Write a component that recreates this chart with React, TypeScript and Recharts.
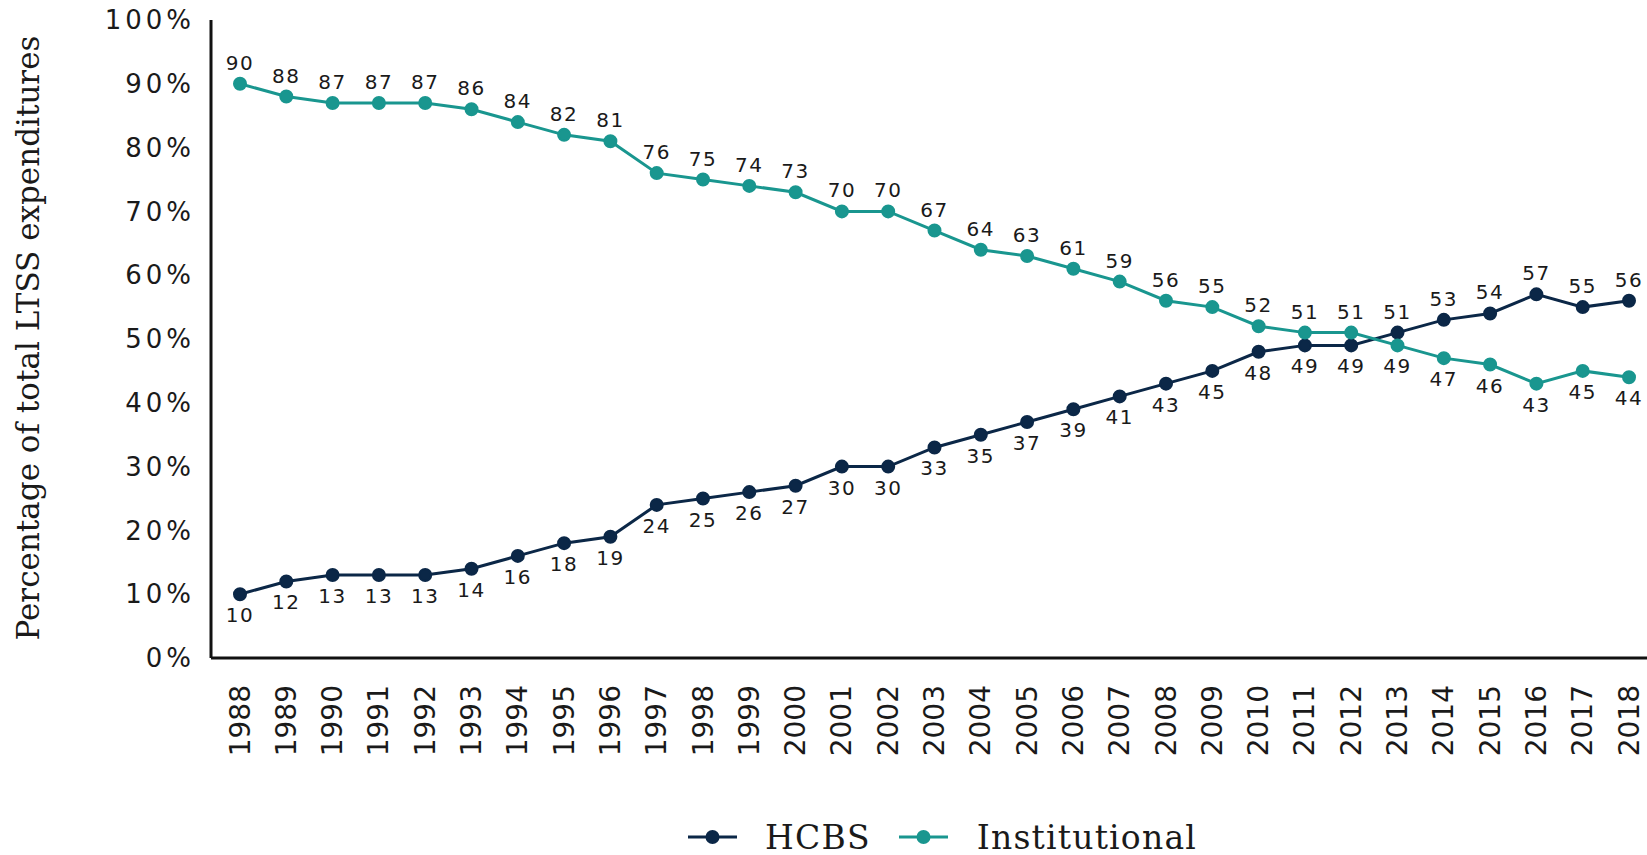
import { LineChart, Line, XAxis, YAxis, Legend, LabelList } from 'recharts';

const years = [
  '1988', '1989', '1990', '1991', '1992', '1993', '1994', '1995', '1996', '1997', '1998',
  '1999', '2000', '2001', '2002', '2003', '2004', '2005', '2006', '2007', '2008',
  '2009', '2010', '2011', '2012', '2013', '2014', '2015', '2016', '2017', '2018',
];
const hcbs = [10, 12, 13, 13, 13, 14, 16, 18, 19, 24, 25, 26, 27, 30, 30, 33, 35, 37, 39, 41, 43, 45, 48, 49, 49, 51, 53, 54, 57, 55, 56];
const institutional = [90, 88, 87, 87, 87, 86, 84, 82, 81, 76, 75, 74, 73, 70, 70, 67, 64, 63, 61, 59, 56, 55, 52, 51, 51, 49, 47, 46, 43, 45, 44];
const yTicks = [0, 10, 20, 30, 40, 50, 60, 70, 80, 90, 100];

const NAVY = '#0b2747';
const TEAL = '#19968f';
const TEXT = '#1a1a1a';

const data = years.map((year, i) => ({ year, hcbs: hcbs[i], institutional: institutional[i] }));

// label goes above the point when this series is the higher one
const makeLabel = (own: number[], other: number[]) => (props: any) => {
  const { x, y, value, index } = props;
  const above = own[index] >= other[index];
  return (
    <text
      x={x}
      y={above ? y - 21 : y + 21}
      textAnchor="middle"
      dominantBaseline="central"
      fontFamily="DejaVu Sans"
      fontSize={20}
      letterSpacing={1.5}
      fill={TEXT}
    >
      {value}
    </text>
  );
};

const YearTick = ({ x, y, payload }: any) => (
  <g transform={`translate(${x},${y})`}>
    <text
      transform="rotate(-90)"
      x={-19}
      y={0}
      textAnchor="end"
      dominantBaseline="central"
      fontFamily="DejaVu Sans"
      fontSize={28}
      fill={TEXT}
    >
      {payload.value}
    </text>
  </g>
);

const AxisTitle = () => (
  <text
    transform="translate(28,338) rotate(-90)"
    textAnchor="middle"
    dominantBaseline="central"
    fontFamily="DejaVu Serif"
    fontSize={31}
    fill={TEXT}
  >
    Percentage of total LTSS expenditures
  </text>
);

const LegendIcon = ({ color }: { color: string }) => (
  <svg width={49} height={16}>
    <line x1={0} y1={8} x2={49} y2={8} stroke={color} strokeWidth={3} />
    <circle cx={24.5} cy={8} r={7} fill={color} />
  </svg>
);

const renderLegend = () => (
  <div style={{ display: 'flex', alignItems: 'center', height: 30, fontFamily: 'DejaVu Serif', fontSize: 33, letterSpacing: 1.2, color: TEXT }}>
    <LegendIcon color={NAVY} />
    <span style={{ marginLeft: 28, marginRight: 28 }}>HCBS</span>
    <LegendIcon color={TEAL} />
    <span style={{ marginLeft: 29 }}>Institutional</span>
  </div>
);

export default function App() {
  return (
    <div style={{ position: 'absolute', left: 0, top: 0, background: '#fff' }}>
      <LineChart width={1647} height={855} data={data} margin={{ top: 20, right: 0, left: 0, bottom: 0 }}>
        <XAxis
          dataKey="year"
          interval={0}
          tickLine={false}
          axisLine={{ stroke: '#111', strokeWidth: 3 }}
          padding={{ left: 29, right: 18 }}
          height={164}
          tick={<YearTick />}
        />
        <YAxis
          domain={[0, 100]}
          ticks={yTicks}
          tickFormatter={(v) => `${v}%`}
          tickLine={false}
          tickSize={0}
          tickMargin={16}
          width={211}
          axisLine={{ stroke: '#111', strokeWidth: 3 }}
          tick={{ fontFamily: 'DejaVu Sans', fontSize: 26, letterSpacing: 4, fill: TEXT }}
          label={<AxisTitle />}
        />
        <Legend verticalAlign="bottom" height={33} wrapperStyle={{ left: 688, bottom: 0 }} content={renderLegend} />
        <Line
          dataKey="hcbs"
          name="HCBS"
          stroke={NAVY}
          strokeWidth={3}
          dot={{ r: 6, fill: NAVY, stroke: NAVY, strokeWidth: 2 }}
          isAnimationActive={false}
        >
          <LabelList dataKey="hcbs" content={makeLabel(hcbs, institutional)} />
        </Line>
        <Line
          dataKey="institutional"
          name="Institutional"
          stroke={TEAL}
          strokeWidth={3}
          dot={{ r: 6, fill: TEAL, stroke: TEAL, strokeWidth: 2 }}
          isAnimationActive={false}
        >
          <LabelList dataKey="institutional" content={makeLabel(institutional, hcbs)} />
        </Line>
      </LineChart>
    </div>
  );
}
